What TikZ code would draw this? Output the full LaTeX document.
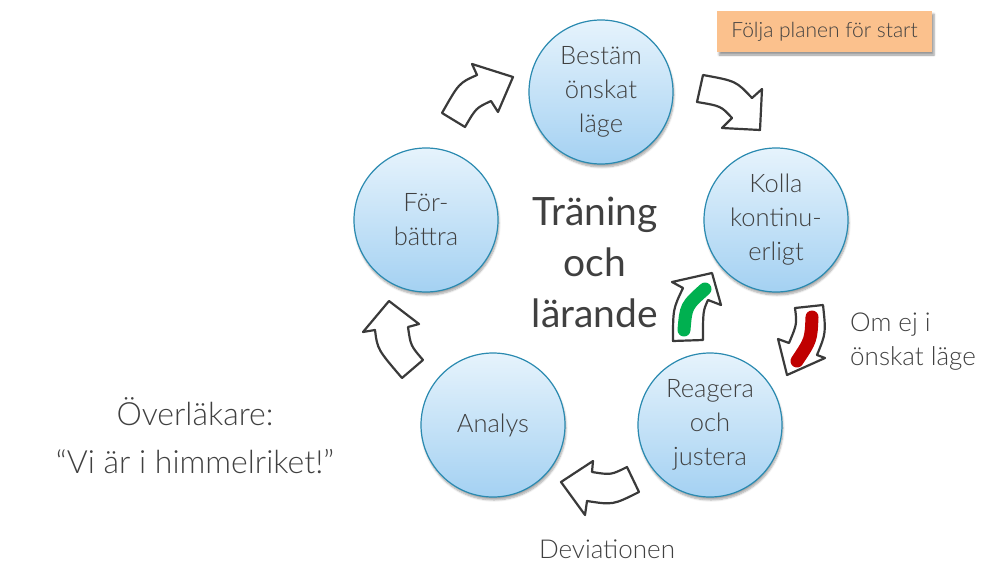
\documentclass[tikz,border=0pt]{standalone}
\usepackage{fontspec}
\setmainfont{Lato Light}[BoldFont=Lato]
\usetikzlibrary{shadows.blur}
\definecolor{txt}{HTML}{404040}
\definecolor{ring}{HTML}{2A8AB0}
\definecolor{ctop}{HTML}{E6F3FC}
\definecolor{cbot}{HTML}{A4D1F2}
\definecolor{orangebox}{HTML}{FBC18D}
\definecolor{arrowline}{HTML}{3A3A3A}
\definecolor{okgreen}{HTML}{00B050}
\definecolor{badred}{HTML}{C00000}
\begin{document}
\begin{tikzpicture}[x=1pt,y=-1pt,
  circ/.style={circle, draw=ring, line width=1.2pt, top color=ctop, bottom color=cbot,
    minimum size=144pt, inner sep=0pt, align=center, text=txt,
    font=\fontsize{25.5}{34}\selectfont,
    blur shadow={shadow xshift=1pt, shadow yshift=-3pt, shadow blur steps=6, shadow opacity=35}},
  barrow/.style={draw=arrowline, fill=white, line width=2.2pt, line join=round},
  pill/.style={line width=13pt, line cap=round},
  lbl/.style={text=txt, font=\fontsize{26}{34}\selectfont, inner sep=0pt}
]
\useasboundingbox (0,0) rectangle (984,562);

% circles
\node[circ] (best) at (601,92) {Bestäm\\önskat\\läge};
\node[circ] (kolla) at (776,220) {Kolla\\kontinu-\\erligt};
\node[circ] (reag) at (710,425) {Reagera\\och\\justera};
\node[circ] (analys) at (493,425) {Analys};
\node[circ] (forb) at (426,220) {För-\\bättra};

% centre title
\node[text=txt, font=\bfseries\fontsize{39}{51}\selectfont, align=center] (title) at (595,262) {Träning\\och\\lärande};

% curved block arrows
\draw[barrow] (442,113) -- (465,127) .. controls (476,108) .. (491,101) -- (498,112)
  -- (513,77) -- (472,64) -- (477,75) .. controls (459,83) .. (442,113) -- cycle;
\draw[barrow] (703,75) .. controls (736,81) .. (752,98) -- (762,89) -- (760,130)
  -- (722,128) -- (732,118) .. controls (721,106) .. (697,102) -- cycle;
\draw[barrow] (673,341) -- (703,340) .. controls (703,311) .. (708,300) -- (721,305)
  -- (712,273) -- (672,282) -- (683,288) .. controls (673,309) .. (673,341) -- cycle;
\draw[okgreen, pill] (684,330) .. controls (686,306) .. (705,289);
\draw[barrow] (795,308) -- (823,305) .. controls (826,333) .. (817,355) -- (825,358)
  -- (787,375) -- (778,339) -- (789,343) .. controls (797,324) .. (795,308) -- cycle;
\draw[badred, pill] (812,317) .. controls (811,340) .. (797,361);
\draw[barrow] (627,467) -- (639,492) .. controls (613,505) .. (587,501) -- (585,515)
  -- (561,482) -- (593,461) -- (592,472) .. controls (611,475) .. (627,467) -- cycle;
\draw[barrow] (423,360) -- (402,378) .. controls (377.5,349.4) .. (375,330) -- (363,332)
  -- (389,301) -- (419,324) -- (408,327) .. controls (410.6,345.6) .. (423,360) -- cycle;

% labels
\node[fill=orangebox, minimum width=215pt, minimum height=41pt, inner sep=0pt, text=txt,
  font=\fontsize{21}{25}\selectfont,
  blur shadow={shadow xshift=2pt, shadow yshift=-3pt, shadow blur steps=5, shadow opacity=40}]
  (plan) at (824.5,31.5) {Följa planen för start};
\node[lbl, align=left, anchor=west] (omej) at (850,342) {Om ej i\\önskat läge};
\node[lbl, anchor=base] (dev) at (607,558) {Deviationen};
\node[text=txt, font=\fontsize{32}{48}\selectfont, align=center, inner sep=0pt] (quote) at (195,436)
  {Överläkare:\\“Vi är i himmelriket!”};
\end{tikzpicture}
\end{document}
